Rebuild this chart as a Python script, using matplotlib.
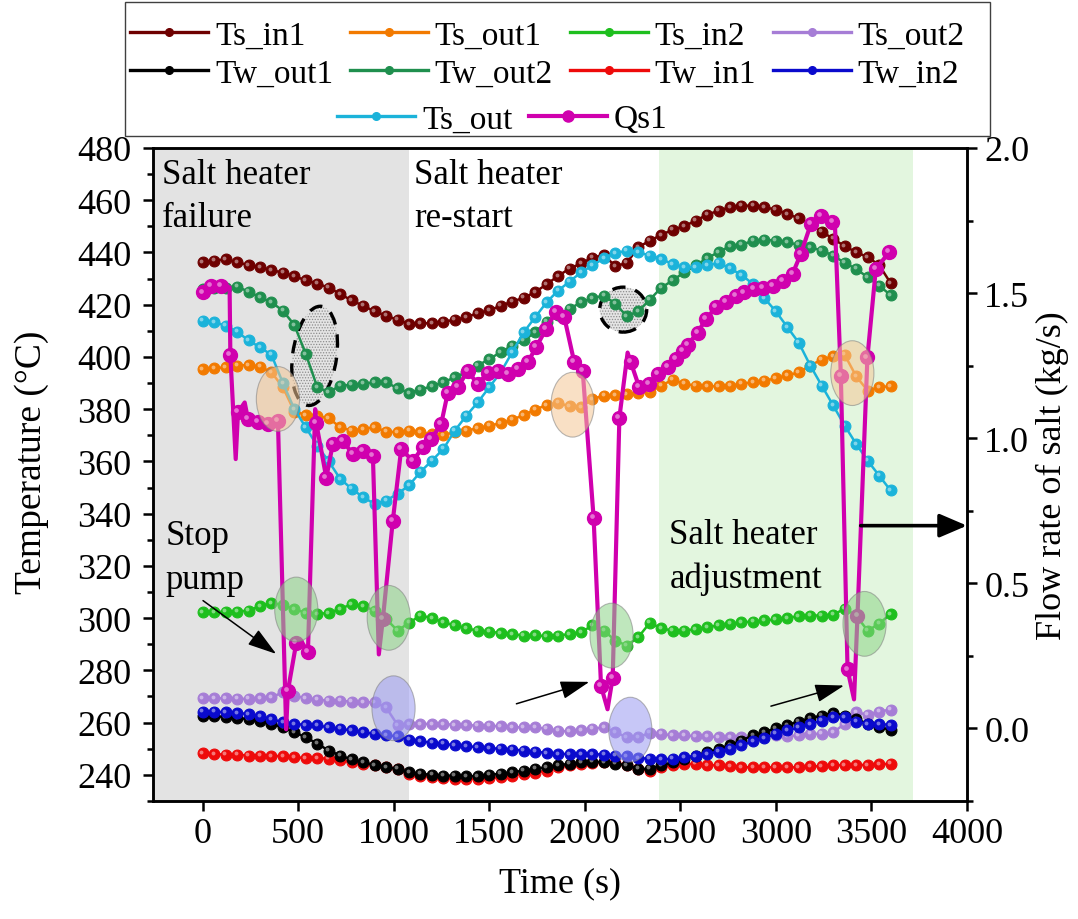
import matplotlib.pyplot as plt
import numpy as np
from matplotlib.patches import Ellipse, Rectangle
from matplotlib.lines import Line2D
from matplotlib.ticker import MultipleLocator, FormatStrFormatter
from matplotlib.transforms import offset_copy, ScaledTranslation

plt.rcParams['font.family'] = 'serif'
plt.rcParams['font.serif'] = ['Liberation Serif', 'DejaVu Serif']
plt.rcParams['font.size'] = 24
plt.rcParams['hatch.linewidth'] = 0.6

# sampling every 60 s
t = np.arange(0, 3601, 60)

ts_in1 = [436.2, 436.8, 437.4, 436.2, 435.2, 434.3, 433.3, 432.2, 430.9, 429.3, 428.1,
          426.5, 424.1, 421.6, 419.6, 417.4, 415.8, 414.2, 412.6, 412.9, 412.9,
          413.5, 414.2, 415.2, 416.8, 417.8, 419.6, 421.2, 422.6, 424.8, 427.8,
          431.0, 433.8, 435.8, 438.0, 439.0, 434.7, 436.0, 442.0, 444.5, 446.7,
          448.7, 450.0, 452.2, 454.4, 456.0, 457.3, 457.9, 457.9, 457.3, 456.4,
          454.7, 453.1, 450.9, 448.0, 445.2, 442.4, 440.1, 438.2, 435.2, 428.3]
ts_out1 = [395.4, 395.7, 396.0, 396.7, 396.9, 396.3, 394.1, 388.4, 379.1, 377.8, 377.3,
           376.5, 373.1, 371.8, 372.4, 373.1, 371.4, 371.2, 371.8, 371.2, 370.3,
           370.1, 371.2, 371.8, 372.7, 373.7, 374.6, 375.9, 377.8, 379.8, 381.6,
           382.4, 381.1, 380.7, 383.9, 385.2, 385.4, 385.8, 386.2, 386.7, 389.0,
           391.3, 389.7, 389.0, 388.8, 388.8, 389.0, 389.7, 390.3, 390.9, 391.8,
           392.9, 394.1, 396.7, 399.0, 400.3, 400.8, 392.6, 387.1, 388.4, 388.8]
ts_in2 = [302.3, 302.3, 302.5, 302.5, 302.9, 304.6, 305.8, 305.0, 303.5, 302.0, 301.6,
          302.0, 303.5, 305.4, 304.6, 302.9, 299.7, 295.2, 298.2, 301.0, 300.0,
          298.4, 297.2, 296.1, 295.2, 294.8, 294.3, 293.9, 293.3, 293.5, 293.0,
          293.3, 293.9, 294.6, 297.2, 295.2, 291.4, 289.5, 292.7, 298.2, 296.1,
          295.2, 295.2, 295.8, 296.5, 297.2, 297.8, 298.4, 298.7, 299.1, 299.5,
          300.0, 300.8, 301.0, 301.0, 301.3, 303.6, 301.0, 295.2, 297.8, 301.6]
ts_out2 = [269.3, 269.3, 269.3, 269.1, 269.1, 269.3, 269.7, 271.6, 270.3, 269.3, 268.8,
           268.4, 268.4, 268.0, 267.8, 267.8, 265.8, 259.1, 259.5, 259.5, 259.5,
           259.5, 259.1, 259.1, 258.8, 258.8, 258.6, 258.2, 258.2, 258.2, 257.6,
           256.9, 256.6, 257.0, 257.6, 258.2, 256.3, 254.4, 254.4, 256.1, 255.7,
           255.1, 255.1, 254.8, 254.8, 254.4, 254.4, 254.4, 254.4, 254.8, 255.1,
           254.8, 255.1, 255.7, 255.7, 256.3, 259.5, 264.0, 263.0, 264.2, 265.0]
tw_out1 = [262.5, 262.5, 262.1, 261.7, 261.4, 260.8, 259.5, 258.2, 256.3, 254.4, 251.9,
           249.3, 247.4, 245.9, 244.8, 243.8, 242.9, 242.3, 241.0, 240.4, 240.0,
           239.7, 239.7, 239.5, 239.5, 240.0, 240.4, 241.0, 241.6, 242.3, 242.9,
           243.7, 244.2, 244.8, 245.1, 244.8, 244.2, 243.8, 242.3, 242.3, 243.6,
           244.8, 246.1, 247.4, 248.6, 249.9, 251.4, 253.1, 255.1, 256.3, 257.9,
           259.1, 260.4, 261.7, 262.7, 263.7, 262.7, 261.4, 259.5, 258.2, 257.3]
tw_out2 = [426.0, 426.3, 426.5, 426.9, 425.0, 422.8, 420.9, 417.7, 412.2, 401.1, 388.4,
           386.5, 389.0, 389.3, 389.7, 390.3, 390.3, 388.0, 386.2, 387.5, 388.8,
           390.3, 392.2, 394.1, 396.7, 399.2, 401.8, 404.3, 406.3, 409.4, 413.5,
           416.0, 418.4, 420.9, 422.5, 423.5, 420.3, 415.6, 417.5, 421.9, 426.5,
           429.3, 432.4, 435.0, 437.8, 440.1, 442.4, 442.9, 444.5, 444.9, 444.5,
           443.9, 442.9, 442.0, 440.7, 438.8, 436.0, 433.7, 430.5, 427.3, 423.7]
tw_in1 = [248.4, 248.0, 247.7, 247.7, 247.4, 247.4, 247.2, 247.2, 246.8, 246.4, 246.4,
          246.2, 245.5, 244.8, 244.2, 243.6, 242.9, 242.3, 240.4, 239.7, 239.1,
          238.7, 238.5, 238.5, 238.5, 238.7, 239.1, 239.7, 240.4, 240.8, 241.6,
          242.9, 243.6, 244.2, 244.6, 244.8, 244.6, 243.6, 242.3, 241.6, 242.9,
          243.6, 244.2, 244.2, 243.8, 243.6, 243.3, 242.9, 242.9, 242.9, 242.9,
          242.9, 242.9, 243.3, 243.3, 243.6, 243.8, 243.8, 243.8, 244.1, 244.2]
tw_in2 = [264.2, 264.2, 264.0, 263.7, 263.3, 262.4, 261.4, 260.1, 259.5, 259.1, 258.9,
          258.2, 257.6, 257.0, 256.3, 255.7, 255.1, 254.8, 253.5, 252.8, 252.3,
          251.9, 251.3, 251.0, 250.6, 250.2, 250.0, 249.7, 249.3, 248.9, 248.4,
          248.0, 248.0, 248.0, 248.0, 247.7, 247.4, 247.2, 246.4, 246.2, 245.9,
          246.2, 246.8, 247.2, 248.0, 248.9, 250.0, 251.3, 252.8, 254.1, 255.7,
          257.0, 258.2, 259.5, 260.8, 262.1, 262.1, 260.4, 259.5, 259.5, 259.1]
ts_out = [413.9, 413.3, 412.0, 409.7, 406.3, 403.7, 400.8, 390.0, 380.0, 373.0, 366.0,
          360.0, 353.3, 349.5, 346.3, 343.7, 345.0, 347.6, 350.8, 356.0, 360.3,
          364.8, 371.8, 377.5, 382.6, 388.4, 394.1, 401.8, 409.4, 415.2, 420.9,
          425.4, 428.8, 432.4, 435.0, 437.8, 439.8, 440.6, 440.1, 438.8, 437.5,
          435.5, 434.3, 434.3, 435.0, 436.0, 433.9, 431.4, 427.9, 422.5, 417.4,
          411.4, 405.4, 396.7, 389.0, 381.4, 373.7, 366.7, 360.3, 354.6, 348.9]

# salt flow, logged at irregular times; qs1_mark flags the logged points shown as balls
qs1_t = [0, 45, 98, 141, 145, 173, 185, 220, 237, 289, 342, 394, 437, 446, 490, 516,
         551, 589, 594, 647, 681, 734, 786, 838, 891, 922, 943, 995, 1039, 1100, 1152,
         1196, 1248, 1283, 1335, 1387, 1440, 1492, 1544, 1597, 1649, 1701, 1745, 1797,
         1849, 1893, 1945, 1989, 2046, 2085, 2119, 2146, 2181, 2224, 2241, 2285, 2337,
         2381, 2433, 2477, 2512, 2538, 2590, 2634, 2686, 2738, 2790, 2834, 2887, 2930,
         2983, 3035, 3087, 3130, 3183, 3235, 3296, 3310, 3340, 3375, 3409, 3427, 3479,
         3523, 3592]
qs1 = [1.502, 1.525, 1.525, 1.520, 1.286, 0.928, 1.089, 1.123, 1.066, 1.056, 1.048,
       1.060, -0.003, 0.129, 0.295, 0.301, 0.263, 1.100, 1.054, 0.864, 0.979, 0.991,
       0.945, 0.956, 0.939, 0.255, 0.376, 0.715, 0.962, 0.922, 0.968, 0.997, 1.048,
       1.157, 1.175, 1.232, 1.186, 1.226, 1.232, 1.221, 1.238, 1.261, 1.313, 1.376,
       1.436, 1.416, 1.261, 1.232, 0.726, 0.146, 0.066, 0.175, 1.071, 1.295, 1.261,
       1.175, 1.186, 1.221, 1.244, 1.272, 1.301, 1.321, 1.364, 1.410, 1.451, 1.470,
       1.491, 1.502, 1.514, 1.516, 1.525, 1.543, 1.566, 1.634, 1.738, 1.764, 1.746,
       1.720, 1.215, 0.203, 0.100, 0.387, 1.278, 1.583, 1.640]
qs1_mark = [1, 1, 1, 0, 1, 0, 1, 0, 1, 1, 1, 1, 0, 1, 1, 0, 1, 0, 1, 1, 1, 1, 1, 1, 1,
            0, 1, 1, 1, 1, 1, 1, 1, 1, 1, 1, 1, 1, 1, 1, 1, 1, 1, 1, 1, 1, 1, 1, 1, 1,
            0, 1, 1, 0, 1, 1, 1, 1, 1, 1, 1, 1, 1, 1, 1, 1, 1, 1, 1, 1, 1, 1, 1, 1, 1,
            1, 1, 0, 1, 1, 0, 1, 1, 1, 1]

fig = plt.figure(figsize=(10.78, 9.2), dpi=100)
ax = fig.add_axes([0.1419, 0.1283, 0.7551, 0.7098])
ax2 = ax.twinx()

ax.set_xlim(-260, 4000)
ax.set_ylim(230, 480)
ax2.set_ylim(-0.25, 2.0)

# operating phases
ax.axvspan(-260, 1080, color='#E3E3E3', lw=0, zorder=0)
ax.axvspan(2390, 3715, color='#E3F6DF', lw=0, zorder=0)

# dashed marks around the Tw_out2 dips (size in inches, placed at data points)
for (cx, cy, w, h, ang) in [(586, 400.4, 0.44, 1.0, -8), (2201, 418.1, 0.47, 0.45, 0)]:
    tr = fig.dpi_scale_trans + ScaledTranslation(cx, cy, ax.transData)
    ax.add_patch(Ellipse((0, 0), w, h, angle=ang, transform=tr, facecolor='#E4E4E4',
                         edgecolor='#8C8C8C', hatch='......', lw=0, zorder=1))
    ax.add_patch(Ellipse((0, 0), w, h, angle=ang, transform=tr, fill=False,
                         edgecolor='black', lw=2.4, ls=(0, (4, 3)), zorder=1))

series = [
    (ts_in1, 'Ts_in1', '#6E0000'),
    (ts_out1, 'Ts_out1', '#F27A00'),
    (ts_in2, 'Ts_in2', '#1EBF1E'),
    (ts_out2, 'Ts_out2', '#A67DD6'),
    (tw_in1, 'Tw_in1', '#EE0A0A'),
    (tw_out1, 'Tw_out1', '#000000'),
    (tw_out2, 'Tw_out2', '#1F8F4E'),
    (tw_in2, 'Tw_in2', '#0A0ACD'),
    (ts_out, 'Ts_out', '#1BB3DA'),
]
colors = {}
glint = offset_copy(ax.transData, fig=fig, x=-1.0, y=1.0, units='points')
for vals, name, c in series:
    colors[name] = c
    ax.plot(t, vals, color=c, lw=1.8, marker='o', ms=7.8, mec=c, mew=0.8, zorder=3)
    ax.plot(t, vals, ls='none', marker='o', ms=2.8, color='white', alpha=0.45,
            mew=0, transform=glint, zorder=3)

qc = '#D000AE'
mk = [bool(m) for m in qs1_mark]
ax2.plot(qs1_t, qs1, color=qc, lw=3.0, marker='o', ms=10, mec=qc, markevery=mk, zorder=4)
glint2 = offset_copy(ax2.transData, fig=fig, x=-1.4, y=1.4, units='points')
ax2.plot(np.array(qs1_t)[mk], np.array(qs1)[mk], ls='none', marker='o', ms=3.4,
         color='white', alpha=0.45, mew=0, transform=glint2, zorder=4)

# highlight ellipses, drawn over the curves
marks = [
    ((394, 383.9), '#F5C796'), ((1936, 381.7), '#F5C796'), ((3400, 393.8), '#F5C796'),
    ((490, 303.3), '#8CD487'), ((974, 300.1), '#8CD487'), ((2140, 293.3), '#8CD487'),
    ((3464, 297.8), '#8CD487'), ((999, 265.5), '#9A9AF2'), ((2238, 257.3), '#9A9AF2'),
]
for (cx, cy), fc in marks:
    ax2.add_patch(Ellipse((cx, cy), 226, 24.8, transform=ax.transData, facecolor=fc,
                          edgecolor='#7F7F7F', lw=0.8, alpha=0.55, zorder=5))

# phase notes
txt = dict(fontsize=25, va='top', ha='left', linespacing=1.42, zorder=6)
ax.text(-212, 476.2, 'Salt heater\nfailure', **txt)
ax.text(1108, 476.2, 'Salt heater\nre-start', **txt)
ax.text(-193, 337.8, 'Stop\npump', **txt)
ax.text(2442, 338.3, 'Salt heater\nadjustment', **txt)

thin = dict(arrowstyle='-|>,head_length=0.9,head_width=0.28', color='black', lw=1.1,
            mutation_scale=20, shrinkA=0, shrinkB=0)
for start, end in [((2, 306.7), (385, 286.3)), ((1642, 267.2), (2024, 275.6)),
                   ((2974, 266.3), (3357, 274.2))]:
    ax2.annotate('', xy=end, xytext=start, xycoords=ax.transData,
                 textcoords=ax.transData, arrowprops=thin, zorder=6)
ax2.annotate('', xy=(4000, 335.4), xytext=(3444, 335.4), xycoords=ax.transData,
             textcoords=ax.transData,
             arrowprops=dict(arrowstyle='-|>,head_length=0.7,head_width=0.3',
                             color='black', lw=2.6, mutation_scale=24,
                             shrinkA=0, shrinkB=0), zorder=6)

# axes styling
for a in (ax, ax2):
    for s in a.spines.values():
        s.set_linewidth(1.8)
ax.set_xticks(range(0, 4001, 500))
ax.set_yticks(range(240, 481, 20))
ax.yaxis.set_minor_locator(MultipleLocator(10))
ax.tick_params(axis='both', which='major', direction='out', length=7.5, width=1.8,
               labelsize=26)
ax.tick_params(axis='y', which='minor', direction='out', length=4.5, width=1.8)
ax.tick_params(axis='x', pad=4)
ax.tick_params(axis='y', pad=8)
ax2.set_yticks([0, 0.5, 1.0, 1.5, 2.0])
ax2.yaxis.set_major_formatter(FormatStrFormatter('%.1f'))
ax2.yaxis.set_minor_locator(MultipleLocator(0.25))
ax2.tick_params(axis='y', which='major', direction='out', length=7.5, width=1.8,
                labelsize=26, pad=5)
ax2.tick_params(axis='y', which='minor', direction='out', length=4.5, width=1.8)

ax.set_xlabel('Time (s)', fontsize=26, labelpad=12)
ax.set_ylabel('Temperature (°C)', fontsize=27)
ax.yaxis.set_label_coords(-0.128, 0.52)
ax2.set_ylabel('Flow rate of salt (kg/s)', fontsize=26, labelpad=5)

# legend: two rows of four, then a short row
def handle(name):
    if name == 'Qs1':
        return Line2D([], [], color=qc, lw=3.0, marker='o', ms=8, label=name)
    c = colors[name]
    return Line2D([], [], color=c, lw=2.4, marker='o', ms=5.5, label=name)

order = ['Ts_in1', 'Tw_out1', 'Ts_out1', 'Tw_out2', 'Ts_in2', 'Tw_in1', 'Ts_out2', 'Tw_in2']
leg = dict(frameon=False, fontsize=24, handlelength=2.35, handletextpad=0.2,
           columnspacing=0.5, labelspacing=0.22, borderpad=0, borderaxespad=0,
           loc='upper left', bbox_transform=fig.transFigure)
fig.legend(handles=[handle(n) for n in order], ncol=4,
           bbox_to_anchor=(130 / 1078, 1 - 21 / 920), **leg)
fig.legend(handles=[handle('Ts_out'), handle('Qs1')], ncol=2,
           bbox_to_anchor=(337 / 1078, 1 - 105 / 920), **leg)
fig.add_artist(Rectangle((125 / 1078, 1 - 137 / 920), 865 / 1078, 134 / 920,
                         transform=fig.transFigure, fill=False, ec='#404040', lw=1.0))

fig.savefig('out.png', dpi=100)
